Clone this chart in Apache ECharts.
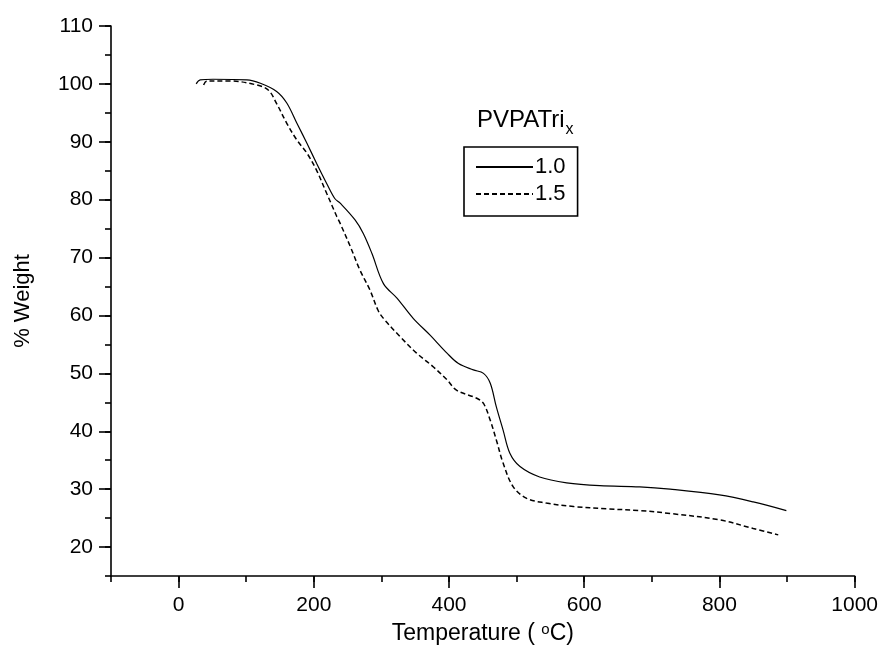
<!DOCTYPE html>
<html>
<head>
<meta charset="utf-8">
<script src="https://cdn.jsdelivr.net/npm/echarts@6/dist/echarts.min.js"></script>
<style>html,body{margin:0;padding:0;background:#fff}#c{width:881px;height:657px}</style>
</head>
<body>
<div id="c"></div>
<script>
// Series 1.0 (solid)
var temp10 = [26, 32, 51, 101, 121, 145, 160, 175, 190, 204, 219, 231, 239, 261, 273, 286, 303, 323, 347, 372, 397, 414, 436, 451, 461, 470, 480, 490, 505, 534, 574, 623, 682, 727, 800, 850, 899];
var weight10 = [100.0, 100.7, 100.8, 100.7, 100.1, 98.7, 96.7, 93.2, 89.7, 86.3, 82.8, 80.2, 79.4, 76.5, 74.2, 70.7, 65.5, 63.0, 59.5, 56.6, 53.5, 51.7, 50.6, 50.0, 48.3, 44.2, 40.2, 36.2, 33.9, 32.1, 31.1, 30.6, 30.4, 30.0, 29.0, 27.8, 26.3];
// Series 1.5 (dashed)
var temp15 = [37, 42, 76, 116, 133, 145, 160, 175, 190, 204, 219, 234, 239, 254, 268, 283, 295, 303, 328, 352, 377, 397, 411, 441, 451, 461, 470, 480, 495, 515, 544, 584, 633, 682, 727, 800, 850, 887];
var weight15 = [99.8, 100.5, 100.5, 99.8, 98.9, 96.6, 93.2, 90.3, 88.0, 85.1, 81.1, 77.1, 75.9, 71.9, 67.9, 64.4, 60.9, 59.5, 56.3, 53.5, 51.1, 48.9, 47.1, 45.7, 44.8, 41.9, 38.5, 34.5, 30.4, 28.4, 27.6, 27.0, 26.6, 26.3, 25.8, 24.7, 23.2, 22.1];
var seriesNames = ['1.0', '1.5'];
var xMajorTicks = [0, 200, 400, 600, 800, 1000];
var yMajorTicks = [20, 30, 40, 50, 60, 70, 80, 90, 100, 110];

function zip(a, b) { return a.map(function (v, i) { return [v, b[i]]; }); }
function plain(v) { return String(v); }

var FONT = '"Liberation Sans", Arial, sans-serif';
var chart = echarts.init(document.getElementById('c'), null, { renderer: 'canvas' });
var axLine = { show: true, onZero: false, lineStyle: { color: '#000', width: 1.6 } };
var gridPos = { left: 111, right: 26, top: 26, bottom: 81 };

chart.setOption({
  backgroundColor: '#fff',
  animation: false,
  textStyle: { fontFamily: FONT },
  title: {
    text: '{a|PVPATri}{b|x}',
    left: 472, top: 103,
    textStyle: {
      fontWeight: 'normal',
      rich: {
        a: { fontSize: 24, color: '#000', fontFamily: FONT, fontWeight: 'normal', lineHeight: 30, verticalAlign: 'top' },
        b: { fontSize: 16, color: '#000', fontFamily: FONT, fontWeight: 'normal', lineHeight: 15, verticalAlign: 'bottom', padding: [21, 0, 0, 1] }
      }
    }
  },
  legend: {
    orient: 'vertical',
    left: 464, top: 147,
    padding: [9, 12, 11, 11],
    itemWidth: 57, itemHeight: 14, itemGap: 5,
    borderColor: '#000', borderWidth: 1.6,
    itemStyle: { opacity: 0 },
    textStyle: { fontSize: 22, lineHeight: 22, color: '#000', fontFamily: FONT, padding: [0, 0, 0, -3] },
    data: seriesNames
  },
  grid: gridPos,
  xAxis: [
    {
      type: 'value', min: -100, max: 1000, interval: 100,
      axisLine: axLine,
      axisTick: { show: true, inside: false, length: 6, lineStyle: { color: '#000', width: 1.6 } },
      axisLabel: { show: false },
      splitLine: { show: false },
      name: 'Temperature ( {s|o}C)',
      nameLocation: 'middle', nameGap: 46,
      nameTextStyle: {
        fontSize: 23, lineHeight: 24, color: '#000', fontFamily: FONT,
        rich: {
          s: { fontSize: 15, color: '#000', fontFamily: FONT, verticalAlign: 'top', lineHeight: 10 }
        }
      }
    },
    {
      type: 'value', min: -100, max: 1000, position: 'bottom',
      axisLine: { show: false, onZero: false },
      axisTick: { show: true, length: 12, customValues: xMajorTicks, lineStyle: { color: '#000', width: 1.6 } },
      axisLabel: { show: true, customValues: xMajorTicks, formatter: plain, fontSize: 21, color: '#000', fontFamily: FONT, margin: 19 },
      splitLine: { show: false }
    }
  ],
  yAxis: [
    {
      type: 'value', min: 15, max: 110, interval: 5,
      axisLine: axLine,
      axisTick: { show: true, length: 6, lineStyle: { color: '#000', width: 1.6 } },
      axisLabel: { show: false },
      splitLine: { show: false },
      name: '% Weight',
      nameLocation: 'middle', nameGap: 77,
      nameTextStyle: { fontSize: 22, color: '#000', fontFamily: FONT }
    },
    {
      type: 'value', min: 15, max: 110, position: 'left',
      axisLine: { show: false, onZero: false },
      axisTick: { show: true, length: 12, customValues: yMajorTicks, lineStyle: { color: '#000', width: 1.6 } },
      axisLabel: { show: true, customValues: yMajorTicks, formatter: plain, fontSize: 21, color: '#000', fontFamily: FONT, margin: 18 },
      splitLine: { show: false }
    }
  ],
  series: [
    {
      name: seriesNames[0], type: 'line', xAxisIndex: 0, yAxisIndex: 0,
      data: zip(temp10, weight10), smooth: 0.35, symbol: 'none',
      lineStyle: { color: '#000', width: 1.2, type: 'solid' },
      itemStyle: { color: '#000' }
    },
    {
      name: seriesNames[1], type: 'line', xAxisIndex: 0, yAxisIndex: 0,
      data: zip(temp15, weight15), smooth: 0.35, symbol: 'none',
      lineStyle: { color: '#000', width: 1.5, type: [5, 3] },
      itemStyle: { color: '#000' }
    }
  ]
});
</script>
</body>
</html>
